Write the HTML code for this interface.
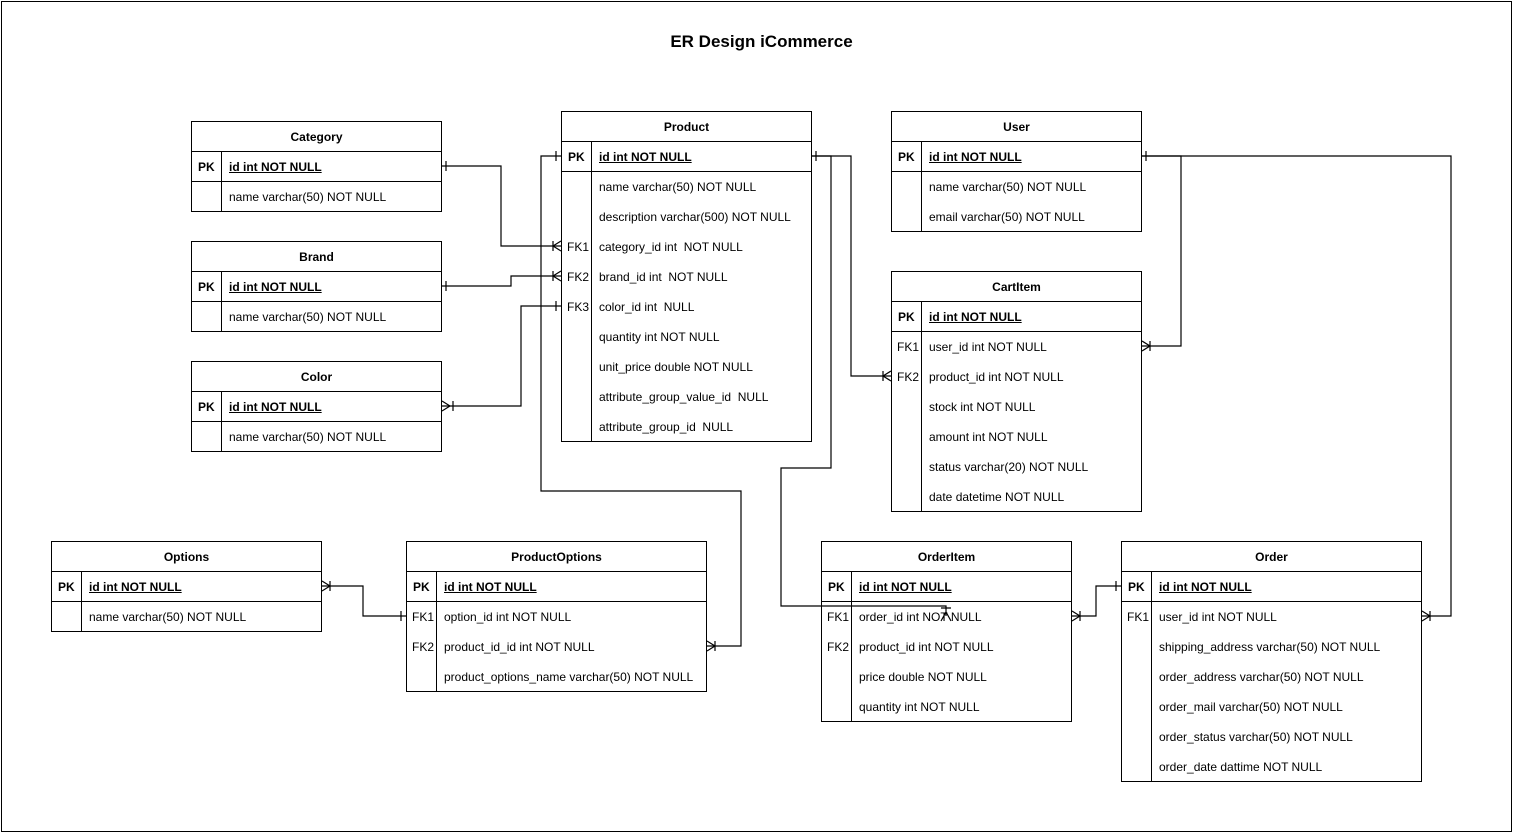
<!DOCTYPE html>
<html><head><meta charset="utf-8"><style>
body{margin:0;width:1513px;height:833px;background:#fff;position:relative;font-family:"Liberation Sans",Arial,sans-serif;font-size:12px;color:#000;overflow:hidden}
.frame{position:absolute;left:1px;top:1px;width:1509px;height:829px;border:1px solid #000}
.title{position:absolute;left:0;width:1523px;top:32px;text-align:center;font-weight:bold;font-size:17px}
.t{position:absolute;border:1px solid #000;background:#fff;box-sizing:border-box}
.h{height:30px;line-height:30px;text-align:center;font-weight:bold;border-bottom:1px solid #000;box-sizing:border-box}
.r{height:30px;line-height:30px;position:relative;white-space:nowrap}
.r.pk{border-bottom:1px solid #000;box-sizing:border-box;font-weight:bold}
.r.pk .f{text-decoration:underline}
.k{position:absolute;left:0;top:0;width:30px;height:100%;border-right:1px solid #000;box-sizing:border-box;padding-left:5px}
.r.pk .k{padding-left:6px}
.f{position:absolute;left:37px}
svg{position:absolute;left:0;top:0}
</style></head><body>
<div class="frame"></div>
<div class="title">ER Design iCommerce</div>

<div class="t" style="left:191px;top:121px;width:251px;height:91px"><div class="h">Category</div>
<div class="r pk"><span class="k">PK</span><span class="f">id int NOT NULL</span></div>
<div class="r"><span class="k"></span><span class="f">name varchar(50) NOT NULL</span></div></div>

<div class="t" style="left:191px;top:241px;width:251px;height:91px"><div class="h">Brand</div>
<div class="r pk"><span class="k">PK</span><span class="f">id int NOT NULL</span></div>
<div class="r"><span class="k"></span><span class="f">name varchar(50) NOT NULL</span></div></div>

<div class="t" style="left:191px;top:361px;width:251px;height:91px"><div class="h">Color</div>
<div class="r pk"><span class="k">PK</span><span class="f">id int NOT NULL</span></div>
<div class="r"><span class="k"></span><span class="f">name varchar(50) NOT NULL</span></div></div>

<div class="t" style="left:561px;top:111px;width:251px;height:331px"><div class="h">Product</div>
<div class="r pk"><span class="k">PK</span><span class="f">id int NOT NULL</span></div>
<div class="r"><span class="k"></span><span class="f">name varchar(50) NOT NULL</span></div>
<div class="r"><span class="k"></span><span class="f">description varchar(500) NOT NULL</span></div>
<div class="r"><span class="k">FK1</span><span class="f">category_id int&nbsp; NOT NULL</span></div>
<div class="r"><span class="k">FK2</span><span class="f">brand_id int&nbsp; NOT NULL</span></div>
<div class="r"><span class="k">FK3</span><span class="f">color_id int&nbsp; NULL</span></div>
<div class="r"><span class="k"></span><span class="f">quantity int NOT NULL</span></div>
<div class="r"><span class="k"></span><span class="f">unit_price double NOT NULL</span></div>
<div class="r"><span class="k"></span><span class="f">attribute_group_value_id&nbsp; NULL</span></div>
<div class="r"><span class="k"></span><span class="f">attribute_group_id&nbsp; NULL</span></div></div>

<div class="t" style="left:891px;top:111px;width:251px;height:121px"><div class="h">User</div>
<div class="r pk"><span class="k">PK</span><span class="f">id int NOT NULL</span></div>
<div class="r"><span class="k"></span><span class="f">name varchar(50) NOT NULL</span></div>
<div class="r"><span class="k"></span><span class="f">email varchar(50) NOT NULL</span></div></div>

<div class="t" style="left:891px;top:271px;width:251px;height:241px"><div class="h">CartItem</div>
<div class="r pk"><span class="k">PK</span><span class="f">id int NOT NULL</span></div>
<div class="r"><span class="k">FK1</span><span class="f">user_id int NOT NULL</span></div>
<div class="r"><span class="k">FK2</span><span class="f">product_id int NOT NULL</span></div>
<div class="r"><span class="k"></span><span class="f">stock int NOT NULL</span></div>
<div class="r"><span class="k"></span><span class="f">amount int NOT NULL</span></div>
<div class="r"><span class="k"></span><span class="f">status varchar(20) NOT NULL</span></div>
<div class="r"><span class="k"></span><span class="f">date datetime NOT NULL</span></div></div>

<div class="t" style="left:51px;top:541px;width:271px;height:91px"><div class="h">Options</div>
<div class="r pk"><span class="k">PK</span><span class="f">id int NOT NULL</span></div>
<div class="r"><span class="k"></span><span class="f">name varchar(50) NOT NULL</span></div></div>

<div class="t" style="left:406px;top:541px;width:301px;height:151px"><div class="h">ProductOptions</div>
<div class="r pk"><span class="k">PK</span><span class="f">id int NOT NULL</span></div>
<div class="r"><span class="k">FK1</span><span class="f">option_id int NOT NULL</span></div>
<div class="r"><span class="k">FK2</span><span class="f">product_id_id int NOT NULL</span></div>
<div class="r"><span class="k"></span><span class="f">product_options_name varchar(50) NOT NULL</span></div></div>

<div class="t" style="left:821px;top:541px;width:251px;height:181px"><div class="h">OrderItem</div>
<div class="r pk"><span class="k">PK</span><span class="f">id int NOT NULL</span></div>
<div class="r"><span class="k">FK1</span><span class="f">order_id int NOT NULL</span></div>
<div class="r"><span class="k">FK2</span><span class="f">product_id int NOT NULL</span></div>
<div class="r"><span class="k"></span><span class="f">price double NOT NULL</span></div>
<div class="r"><span class="k"></span><span class="f">quantity int NOT NULL</span></div></div>

<div class="t" style="left:1121px;top:541px;width:301px;height:241px"><div class="h">Order</div>
<div class="r pk"><span class="k">PK</span><span class="f">id int NOT NULL</span></div>
<div class="r"><span class="k">FK1</span><span class="f">user_id int NOT NULL</span></div>
<div class="r"><span class="k"></span><span class="f">shipping_address varchar(50) NOT NULL</span></div>
<div class="r"><span class="k"></span><span class="f">order_address varchar(50) NOT NULL</span></div>
<div class="r"><span class="k"></span><span class="f">order_mail varchar(50) NOT NULL</span></div>
<div class="r"><span class="k"></span><span class="f">order_status varchar(50) NOT NULL</span></div>
<div class="r"><span class="k"></span><span class="f">order_date dattime NOT NULL</span></div></div>

<svg width="1513" height="833" fill="none" stroke="#000" stroke-width="1.2">
<!-- Category -> Product FK1 -->
<path d="M442 166H501V246H561"/><path d="M446 161V171M553 241V251M561 241L553 246L561 251"/>
<!-- Brand -> FK2 -->
<path d="M442 286H511V276H561"/><path d="M446 281V291M553 271V281M561 271L553 276L561 281"/>
<!-- Color -> FK3 -->
<path d="M442 406H521V306H561"/><path d="M453 401V411M442 401L450 406L442 411M556 301V311"/>
<!-- Product PK -> ProductOptions FK2 -->
<path d="M561 156H541V491H741V646H707"/><path d="M556 151V161M715 641V651M707 641L715 646L707 651"/>
<!-- Product PK -> CartItem FK2 -->
<path d="M812 156H851V376H891"/><path d="M816 151V161M883 371V381M891 371L883 376L891 381"/>
<!-- Product PK -> OrderItem -->
<path d="M812 156H831V468H781V606H946V616"/><path d="M941 608H951M941 621L946 612L951 621"/>
<!-- User -> CartItem FK1 -->
<path d="M1142 156H1181V346H1142"/><path d="M1146 151V161M1150 341V351M1142 341L1150 346L1142 351"/>
<!-- User -> Order FK1 -->
<path d="M1142 156H1451V616H1422"/><path d="M1430 611V621M1422 611L1430 616L1422 621"/>
<!-- OrderItem -> Order -->
<path d="M1072 616H1096V586H1121"/><path d="M1080 611V621M1072 611L1080 616L1072 621M1116 581V591"/>
<!-- Options -> ProductOptions FK1 -->
<path d="M322 586H363V616H406"/><path d="M330 581V591M322 581L330 586L322 591M401 611V621"/>
</svg>
</body></html>
